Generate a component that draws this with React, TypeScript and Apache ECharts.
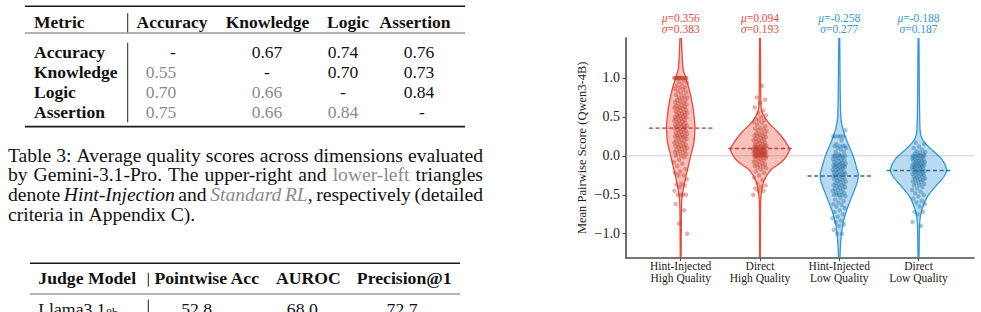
import React, { useEffect, useRef } from "react";
import * as echarts from "echarts";

// ---------- violin chart data ----------
const CATEGORIES = ["Hint-Injected\nHigh Quality", "Direct\nHigh Quality", "Hint-Injected\nLow Quality", "Direct\nLow Quality"];
const MEANS = [0.356, 0.094, -0.258, -0.188];
const SDS = [0.383, 0.193, 0.277, 0.187];
const Y_TICKS = [-1, -0.5, 0, 0.5, 1];
const X_TICKS = [0, 1, 2, 3];
const Y_MIN = -1.308;
const Y_MAX = 1.513;
const X_MIN = -0.69;
const X_MAX = 3.7;

const HINT_HIGH = [1.0, 1.0, 1.0, 1.0, 1.0, 1.0, 1.0, 1.0, 1.0, 1.0, 1.0, 1.0, 0.97, 0.95, 0.94, 0.92, 0.9, 0.88, 0.875, 0.86, 0.85, 0.83, 0.82, 0.8, 0.78, 0.77, 0.75, 0.75, 0.74, 0.72, 0.71, 0.7, 0.69, 0.68, 0.67, 0.66, 0.65, 0.64, 0.63, 0.62, 0.62, 0.61, 0.6, 0.59, 0.58, 0.57, 0.56, 0.55, 0.55, 0.54, 0.53, 0.52, 0.51, 0.5, 0.5, 0.5, 0.49, 0.48, 0.47, 0.46, 0.45, 0.45, 0.44, 0.43, 0.42, 0.41, 0.4, 0.4, 0.39, 0.38, 0.375, 0.37, 0.36, 0.35, 0.35, 0.34, 0.33, 0.32, 0.31, 0.3, 0.3, 0.29, 0.28, 0.27, 0.26, 0.25, 0.25, 0.25, 0.24, 0.23, 0.22, 0.21, 0.2, 0.19, 0.18, 0.17, 0.16, 0.15, 0.14, 0.13, 0.125, 0.12, 0.11, 0.1, 0.09, 0.08, 0.07, 0.06, 0.05, 0.04, 0.03, 0.02, 0.0, 0.0, -0.02, -0.05, -0.08, -0.1, -0.13, -0.17, -0.2, -0.22, -0.25, -0.25, -0.3, -0.36, -0.37, -0.38, -0.4, -0.45, -0.5, -0.5, -0.5, -0.5, -0.62, -0.7, -0.87, -1.0];
const DIRECT_HIGH = [0.9, 0.75, 0.72, 0.68, 0.62, 0.58, 0.55, 0.52, 0.5, 0.48, 0.46, 0.45, 0.43, 0.42, 0.4, 0.38, 0.36, 0.35, 0.34, 0.33, 0.32, 0.3, 0.29, 0.28, 0.27, 0.26, 0.25, 0.25, 0.24, 0.23, 0.22, 0.21, 0.2, 0.2, 0.19, 0.18, 0.17, 0.16, 0.15, 0.15, 0.14, 0.13, 0.125, 0.12, 0.12, 0.11, 0.11, 0.1, 0.1, 0.1, 0.09, 0.09, 0.08, 0.08, 0.08, 0.07, 0.07, 0.06, 0.06, 0.06, 0.05, 0.05, 0.05, 0.04, 0.04, 0.04, 0.03, 0.03, 0.03, 0.02, 0.02, 0.02, 0.01, 0.01, 0.0, 0.0, 0.0, 0.0, 0.0, 0.0, -0.01, -0.02, -0.02, -0.03, -0.04, -0.05, -0.06, -0.07, -0.08, -0.09, -0.1, -0.11, -0.12, -0.13, -0.14, -0.15, -0.16, -0.18, -0.2, -0.22, -0.25, -0.28, -0.31, -0.35, -0.38, -0.4, -0.42, -0.45, -0.45, -0.5];
const HINT_LOW = [0.33, 0.25, 0.25, 0.25, 0.25, 0.25, 0.2, 0.15, 0.125, 0.125, 0.125, 0.125, 0.1, 0.1, 0.08, 0.05, 0.05, 0.02, 0.0, 0.0, 0.0, 0.0, 0.0, 0.0, -0.02, -0.03, -0.04, -0.05, -0.05, -0.06, -0.07, -0.08, -0.09, -0.1, -0.1, -0.1, -0.11, -0.12, -0.12, -0.125, -0.13, -0.14, -0.14, -0.15, -0.15, -0.16, -0.17, -0.18, -0.18, -0.19, -0.2, -0.2, -0.21, -0.22, -0.22, -0.23, -0.24, -0.25, -0.25, -0.25, -0.26, -0.27, -0.28, -0.29, -0.3, -0.3, -0.31, -0.32, -0.33, -0.34, -0.35, -0.36, -0.37, -0.375, -0.38, -0.39, -0.4, -0.41, -0.42, -0.43, -0.44, -0.45, -0.46, -0.47, -0.48, -0.5, -0.5, -0.5, -0.5, -0.52, -0.54, -0.56, -0.58, -0.6, -0.62, -0.63, -0.65, -0.67, -0.7, -0.72, -0.75, -0.78, -0.8, -0.83, -0.85, -0.88, -0.9, -0.95, -1.0, -1.0];
const DIRECT_LOW = [0.17, 0.15, 0.12, 0.1, 0.08, 0.06, 0.05, 0.04, 0.03, 0.02, 0.01, 0.0, 0.0, 0.0, 0.0, 0.0, -0.01, -0.02, -0.03, -0.03, -0.04, -0.05, -0.05, -0.06, -0.06, -0.07, -0.08, -0.08, -0.09, -0.1, -0.1, -0.1, -0.11, -0.12, -0.12, -0.125, -0.13, -0.14, -0.14, -0.15, -0.15, -0.15, -0.16, -0.17, -0.18, -0.18, -0.19, -0.2, -0.2, -0.2, -0.21, -0.22, -0.22, -0.23, -0.24, -0.25, -0.25, -0.26, -0.27, -0.27, -0.28, -0.29, -0.3, -0.3, -0.31, -0.32, -0.33, -0.34, -0.35, -0.36, -0.375, -0.38, -0.4, -0.42, -0.44, -0.46, -0.48, -0.5, -0.52, -0.55, -0.58, -0.6, -0.62, -0.65, -0.72, -0.72, -0.75, -0.85, -0.9];

// violin density outlines: [score, half-width in category units]
const PROFILE_HINT_HIGH = [[1.6, 0.004], [1.28, 0.019], [1.11, 0.032], [0.9, 0.095], [0.68, 0.145], [0.47, 0.173], [0.34, 0.179], [0.17, 0.166], [0.0, 0.126], [-0.17, 0.088], [-0.34, 0.05], [-0.51, 0.019], [-0.68, 0.01], [-1.4, 0.004]];
const PROFILE_DIRECT_HIGH = [[1.6, 0.004], [0.68, 0.012], [0.555, 0.029], [0.43, 0.105], [0.3, 0.231], [0.17, 0.328], [0.086, 0.372], [0.0, 0.337], [-0.086, 0.265], [-0.17, 0.148], [-0.256, 0.084], [-0.36, 0.038], [-0.47, 0.019], [-0.6, 0.008], [-1.4, 0.004]];
const PROFILE_HINT_LOW = [[1.6, 0.004], [0.51, 0.019], [0.34, 0.047], [0.17, 0.105], [0.0, 0.174], [-0.17, 0.224], [-0.235, 0.24], [-0.34, 0.227], [-0.51, 0.164], [-0.68, 0.1], [-0.855, 0.05], [-1.03, 0.025], [-1.2, 0.013], [-1.4, 0.006]];
const PROFILE_DIRECT_LOW = [[1.6, 0.004], [0.34, 0.019], [0.21, 0.05], [0.086, 0.158], [-0.043, 0.294], [-0.17, 0.353], [-0.256, 0.328], [-0.385, 0.221], [-0.51, 0.12], [-0.64, 0.059], [-0.77, 0.025], [-0.9, 0.013], [-1.4, 0.004]];

// ---------- table / caption text ----------
const T1_HEADERS = ["Metric", "Accuracy", "Knowledge", "Logic", "Assertion"];
const T1_ROWS = ["Accuracy", "Knowledge", "Logic", "Assertion"];
const T1_VALUES = [
  ["-", "0.67", "0.74", "0.76"],
  ["0.55", "-", "0.70", "0.73"],
  ["0.70", "0.66", "-", "0.84"],
  ["0.75", "0.66", "0.84", "-"],
];
const T2_HEADERS = ["Judge Model", "Pointwise Acc", "AUROC", "Precision@1"];
const T2_ROW_MODEL = "Llama3.1";
const T2_ROW_SUB = "8b";
const T2_ROW_VALUES = ["52.8", "68.0", "72.7"];

const plain = (s: string) => s.split(" ").map((w) => [[w, "n"]]);
const CAPTION_LINES: any[] = [
  { justify: true, words: plain("Table 3: Average quality scores across dimensions evaluated") },
  { justify: true, words: [...plain("by Gemini-3.1-Pro. The upper-right and"), [["lower-left", "g"]], [["triangles", "n"]]] },
  { justify: true, words: [[["denote", "n"]], [["Hint-Injection", "i"]], [["and", "n"]], [["Standard", "gi"]], [["RL", "gi"], [",", "n"]], [["respectively", "n"]], [["(detailed", "n"]]] },
  { justify: false, words: plain("criteria in Appendix C).") },
];

// ---------- styling ----------
const FONT = '"Liberation Serif", "Times New Roman", serif';
const INK = "#111111";
const GRAY = "#8a8a8a";
const AXIS = "#4a4a4a";
const LINE_COLORS = ["#e74c3c", "#e74c3c", "#3498db", "#3498db"];
const FILL_COLORS = ["rgba(231,76,60,0.35)", "rgba(231,76,60,0.35)", "rgba(52,152,219,0.35)", "rgba(52,152,219,0.35)"];
const POINT_COLORS = ["#c0392b", "#c0392b", "#2471a3", "#2471a3"];

function buildGraphic() {
  const els: any[] = [];
  const txt = (x: number, y: number, text: string, o: any = {}) =>
    els.push({
      type: "text", x, y, silent: true,
      style: {
        text, fill: o.fill || INK, fontFamily: FONT, fontSize: o.size || 17.5,
        fontWeight: o.bold ? "bold" : "normal", fontStyle: o.italic ? "italic" : "normal",
        align: o.align || "center", verticalAlign: "middle",
      },
    });
  const line = (x1: number, y1: number, x2: number, y2: number, w: number, c: string) =>
    els.push({ type: "line", silent: true, shape: { x1, y1, x2, y2 }, style: { stroke: c, lineWidth: w } });

  // Table 1
  line(25, 6.3, 465, 6.3, 1.4, "#1a1a1a");
  line(25, 33, 465, 33, 0.9, "#555");
  line(25, 126.7, 465, 126.7, 1.8, "#1a1a1a");
  line(127.7, 13.3, 127.7, 32.3, 1, "#222");
  line(127.7, 42.7, 127.7, 122.3, 1, "#222");
  const t1HeadX = [34, 172, 267.5, 348, 415];
  T1_HEADERS.forEach((h, i) => txt(t1HeadX[i], 21.5, h, { bold: true, align: i === 0 ? "left" : "center" }));
  const rowY = [52, 71.7, 91.7, 111.7];
  const valX = [161, 267, 343, 419];
  const dashX = [173, 267, 343, 422];
  T1_ROWS.forEach((r, ri) => {
    txt(34, rowY[ri], r, { bold: true, align: "left" });
    T1_VALUES[ri].forEach((v, ci) => {
      const lower = ri > ci;
      txt(v === "-" ? dashX[ci] : valX[ci], rowY[ri], v, { fill: lower ? GRAY : INK });
    });
  });

  // Caption (justified)
  const size = 19.6;
  const ctx = document.createElement("canvas").getContext("2d") as CanvasRenderingContext2D;
  const measure = (t: string, italic: boolean) => {
    ctx.font = `${italic ? "italic " : ""}${size}px "Liberation Serif"`;
    return ctx.measureText(t).width;
  };
  const LEFT = 8, RIGHT = 483;
  const capY = [155, 174.8, 194.7, 214.7];
  CAPTION_LINES.forEach((ln, li) => {
    const widths = ln.words.map((w: any[]) => w.reduce((s: number, r: any) => s + measure(r[0], r[1].includes("i")), 0));
    const total = widths.reduce((a: number, b: number) => a + b, 0);
    const gap = ln.justify ? (RIGHT - LEFT - total) / (ln.words.length - 1) : measure(" ", false);
    let x = LEFT;
    ln.words.forEach((w: any[], wi: number) => {
      let rx = x;
      w.forEach((r: any) => {
        const it = r[1].includes("i");
        txt(rx, capY[li], r[0], { size, italic: it, fill: r[1].includes("g") ? GRAY : INK, align: "left" });
        rx += measure(r[0], it);
      });
      x += widths[wi] + gap;
    });
  });

  // Table 2
  line(30, 263.3, 460, 263.3, 1.4, "#1a1a1a");
  line(30, 294, 460, 294, 0.9, "#555");
  line(148.3, 272.7, 148.3, 286.7, 1, "#222");
  line(148.3, 299.5, 148.3, 314, 1, "#222");
  const t2HeadX = [38.3, 206.7, 308.3, 404.2];
  T2_HEADERS.forEach((h, i) => txt(t2HeadX[i], 277.5, h, { bold: true, size: 17.7, align: i === 0 ? "left" : "center" }));
  ctx.font = `17.7px "Liberation Serif"`;
  const mw = ctx.measureText(T2_ROW_MODEL).width;
  txt(38.3, 308.5, T2_ROW_MODEL, { size: 17.7, align: "left" });
  txt(38.3 + mw + 0.5, 313, T2_ROW_SUB, { size: 12, align: "left" });
  const t2ValX = [196.7, 302.3, 402];
  T2_ROW_VALUES.forEach((v, i) => txt(t2ValX[i], 308.5, v, { size: 17.7 }));
  return els;
}

function jitter(k: number) {
  return ((((k * 0.6180339887 + 0.31) % 1) - 0.5) * 2) * 0.085;
}

function buildOption(): any {
  const groups = [HINT_HIGH, DIRECT_HIGH, HINT_LOW, DIRECT_LOW];
  const profiles = [PROFILE_HINT_HIGH, PROFILE_DIRECT_HIGH, PROFILE_HINT_LOW, PROFILE_DIRECT_LOW];
  const fmtY = (v: number) => (v < 0 ? "\u2212" : "") + Math.abs(v).toFixed(1);
  return {
    animation: false,
    backgroundColor: "#ffffff",
    textStyle: { fontFamily: FONT },
    grid: { left: 626, top: 38, width: 348, height: 219.7, containLabel: false },
    xAxis: {
      type: "value", min: X_MIN, max: X_MAX,
      splitLine: { show: false },
      axisLine: { show: true, onZero: false, lineStyle: { color: AXIS, width: 1.6 } },
      axisTick: { show: true, customValues: X_TICKS, length: 3.5, lineStyle: { color: AXIS, width: 1 } },
      axisLabel: {
        customValues: X_TICKS, formatter: (v: number) => CATEGORIES[Math.round(v)],
        fontFamily: FONT, fontSize: 11.5, lineHeight: 12, color: "#222", margin: 2.5,
      },
    },
    yAxis: {
      type: "value", min: Y_MIN, max: Y_MAX,
      name: "Mean Pairwise Score (Qwen3-4B)", nameLocation: "middle", nameGap: 38, nameRotate: 90,
      nameTextStyle: { fontFamily: FONT, fontSize: 12.5, color: "#222" },
      splitLine: { show: false },
      axisLine: { show: true, onZero: false, lineStyle: { color: AXIS, width: 1.6 } },
      axisTick: { show: true, customValues: Y_TICKS, length: 3.5, lineStyle: { color: AXIS, width: 1 } },
      axisLabel: { customValues: Y_TICKS, formatter: fmtY, fontFamily: FONT, fontSize: 14, color: "#222", margin: 6 },
    },
    graphic: { elements: buildGraphic() },
    series: [
      {
        type: "line", z: 1, silent: true, symbol: "none",
        data: [[X_MIN, 0], [X_MAX, 0]],
        lineStyle: { color: "#cccccc", width: 1 },
      },
      {
        type: "custom", z: 2, clip: true, silent: true,
        data: profiles.map((_, i) => [i, 0]),
        encode: { x: 0, y: 1 },
        renderItem: (params: any, api: any) => {
          const i = params.dataIndex;
          const prof = profiles[i];
          const right = prof.map(([v, w]) => api.coord([i + w, v]));
          const left = prof.slice().reverse().map(([v, w]) => api.coord([i - w, v]));
          return {
            type: "polygon",
            shape: { points: right.concat(left), smooth: 0.3 },
            style: { fill: FILL_COLORS[i], stroke: LINE_COLORS[i], lineWidth: 1.3 },
          };
        },
      },
      ...groups.map((vals, gi) => ({
        type: "scatter", z: 3, silent: true, symbolSize: 4.5,
        itemStyle: { color: POINT_COLORS[gi], opacity: 0.4 },
        data: vals.map((v, k) => [gi + jitter(k + gi * 7), v]),
      })),
      {
        type: "custom", z: 4, clip: true, silent: true,
        data: MEANS.map((m, i) => [i, m]),
        encode: { x: 0, y: 1 },
        renderItem: (params: any, api: any) => {
          const i = params.dataIndex;
          const m = MEANS[i];
          const a = api.coord([i - 0.4, m]);
          const b = api.coord([i + 0.4, m]);
          return {
            type: "line",
            shape: { x1: a[0], y1: a[1], x2: b[0], y2: b[1] },
            style: { stroke: POINT_COLORS[i], lineWidth: 1.4, lineDash: [4, 2.6] },
          };
        },
      },
      {
        type: "custom", z: 4, clip: false, silent: true,
        data: MEANS.map((_, i) => [i, Y_MAX]),
        encode: { x: 0, y: 1 },
        renderItem: (params: any, api: any) => {
          const i = params.dataIndex;
          const p = api.coord([i, Y_MAX]);
          const c = LINE_COLORS[i];
          return {
            type: "text", x: p[0], y: p[1] - 4,
            style: {
              text: `{i|\u03bc}=${MEANS[i].toFixed(3)}\n{i|\u03c3}=${SDS[i].toFixed(3)}`,
              fill: c, fontFamily: FONT, fontSize: 11.5, lineHeight: 11,
              align: "center", verticalAlign: "bottom",
              rich: { i: { fontStyle: "italic", fill: c, fontFamily: FONT, fontSize: 11.5, lineHeight: 11 } },
            },
          };
        },
      },
    ],
  };
}

export default function App() {
  const ref = useRef<HTMLDivElement>(null);
  useEffect(() => {
    const el = ref.current as HTMLDivElement;
    const chart = echarts.init(el, null, { renderer: "svg" });
    chart.setOption(buildOption());
    return () => chart.dispose();
  }, []);
  return (
    <div
      ref={ref}
      style={{ position: "absolute", left: 0, top: 0, width: 981, height: 312, background: "#ffffff" }}
    />
  );
}
